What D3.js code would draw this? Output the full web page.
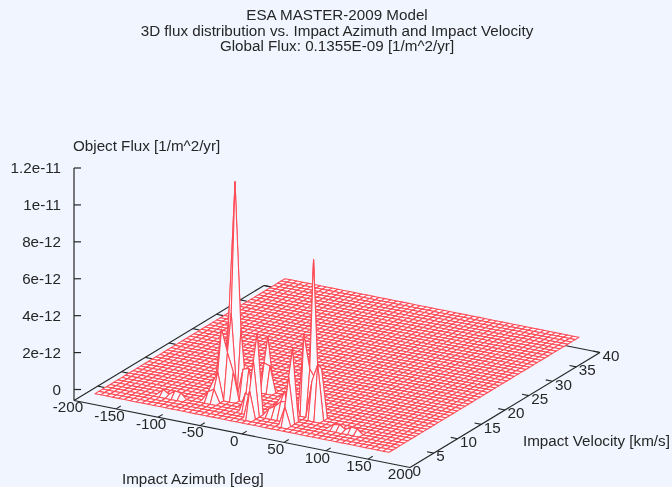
<!DOCTYPE html>
<html>
<head>
<meta charset="utf-8">
<script src="https://cdn.jsdelivr.net/npm/d3@7"></script>
<style>
  html, body { margin: 0; padding: 0; background: #f0f5ff; }
  svg { display: block; filter: blur(0.45px); }
  text { font-family: "Liberation Sans", sans-serif; font-size: 15.2px; fill: #262626; }
</style>
</head>
<body>
<svg class="chart" width="672" height="487"></svg>
<script>
var titleLines = ["ESA MASTER-2009 Model",
                  "3D flux distribution vs. Impact Azimuth and Impact Velocity",
                  "Global Flux: 0.1355E-09 [1/m^2/yr]"];

var azimuthTicks = [-200, -150, -100, -50, 0, 50, 100, 150, 200];
var velocityTicks = [0, 5, 10, 15, 20, 25, 30, 35, 40];
var fluxTicks = [0, 2e-12, 4e-12, 6e-12, 8e-12, 1e-11, 1.2e-11];
var fluxLabels = ["0", "2e-12", "4e-12", "6e-12", "8e-12", "1e-11", "1.2e-11"];

// grid nodes of the surface
var azimuths = [-175, -168, -161, -154, -147, -140, -133, -126, -119, -112, -105, -98, -91,
                -84, -77, -70, -63, -56, -49, -42, -35, -28, -21, -14, -7, 0, 7, 14, 21, 28,
                35, 42, 49, 56, 63, 70, 77, 84, 91, 98, 105, 112, 119, 126, 133, 140, 147,
                154, 161, 168, 175];
var velocities = [0, 0.8, 1.6, 2.4, 3.2, 4, 4.8, 5.6, 6.4, 7.2, 8, 8.8, 9.6, 10.4, 11.2, 12,
                  12.8, 13.6, 14.4, 15.2, 16, 16.8, 17.6, 18.4, 19.2, 20, 20.8, 21.6, 22.4,
                  23.2, 24, 24.8, 25.6, 26.4, 27.2, 28, 28.8, 29.6, 30.4, 31.2, 32, 32.8,
                  33.6, 34.4, 35.2, 36, 36.8, 37.6, 38.4, 39.2, 40];

// every node not listed here is zero flux
var peakAzimuth  = [-49, -49, -49, -49, -56, -42, -56, -56, -42, -35, -63, -63, -56,
                    -28, -28, -28, -21, -63,
                    0, 0, 0, -14, -7, 14, 14,
                    42, 42, 42, 42, 49, 49, 42, 63, 63, 56, 56, 28, 28, 21, 21, 35, 35,
                    -112, -105, -98, -91, 91, 98, 105, 112, 119];
var peakVelocity = [7.2, 6.4, 5.6, 8, 7.2, 7.2, 5.6, 4.8, 5.6, 6.4, 5.6, 4.8, 4,
                    6.4, 10.4, 9.6, 9.6, 4,
                    3.2, 2.4, 1.6, 3.2, 3.2, 4, 3.2,
                    3.2, 2.4, 1.6, 5.6, 6.4, 5.6, 7.2, 4.8, 5.6, 4.8, 5.6, 4, 3.2, 4, 3.2, 4.8, 3.2,
                    3.2, 3.2, 3.2, 3.2, 3.2, 3.2, 3.2, 3.2, 3.2];
var peakFlux     = [1.15e-11, 4.5e-12, 2.5e-12, 2e-12, 4.5e-12, 3.6e-12, 3.7e-12, 1.5e-12, 1.5e-12, 1.6e-12, 1e-12, 8e-13, 7e-13,
                    1.7e-12, 2.8e-12, 1.5e-12, 1.4e-12, 5e-13,
                    4.35e-12, 3e-12, 1.5e-12, 1e-12, 8e-13, 4e-13, 4e-13,
                    3.9e-12, 2.5e-12, 1e-12, 4.3e-12, 8.3e-12, 2.5e-12, 3e-12, 3e-12, 2.65e-12, 2e-12, 2e-12, 1.35e-12, 9e-13, 8e-13, 6e-13, 1.2e-12, 1e-12,
                    3e-13, 1e-13, 3.5e-13, 3e-13, 2.5e-13, 3e-13, 1e-13, 3e-13, 2.5e-13];

var fluxAt = {};
peakAzimuth.forEach(function (a, i) { fluxAt[a + "," + peakVelocity[i]] = peakFlux[i]; });

// the view is an affine projection, so each data axis gets a scale per screen direction
var azX = d3.scaleLinear().domain([-200, 200]).range([0, 336]),
    azY = d3.scaleLinear().domain([-200, 200]).range([0, 67]),
    velX = d3.scaleLinear().domain([0, 40]).range([0, 190]),
    velY = d3.scaleLinear().domain([0, 40]).range([0, -115]),
    zY = d3.scaleLinear().domain([0, 1.2e-11]).range([389.5, 168]),
    azLabelShift = d3.scaleLinear().domain([-200, 200]).range([-6, -9.5]);

var originX = 74, floorY = 400.5, baseLift = floorY - zY(0);

function px(a, v) { return originX + azX(a) + velX(v); }
function py(a, v, z) { return floorY + azY(a) + velY(v) - baseLift - (zY(0) - zY(z || 0)); }
function floorPy(a, v) { return floorY + azY(a) + velY(v); }

var chart = d3.select("svg.chart");
var line = d3.line();

// back and bottom edges go under the surface
var boxEdges = [[[-200, 40], [200, 40]]];
var frontEdges = [[[-200, 0], [200, 0]], [[200, 0], [200, 40]], [[-200, 0], [-200, 40]]];

function edge(sel, edges) {
  sel.selectAll(null).data(edges).enter().append("path")
    .attr("d", function (e) { return line(e.map(function (p) { return [px(p[0], p[1]), floorPy(p[0], p[1])]; })); })
    .attr("fill", "none").attr("stroke", "#262626").attr("stroke-width", 1.2);
}

edge(chart.append("g"), boxEdges.concat(frontEdges));

// z axis
var zAxis = chart.append("g");
zAxis.append("line").attr("x1", originX).attr("x2", originX)
  .attr("y1", zY(1.2e-11)).attr("y2", floorY).attr("stroke", "#262626").attr("stroke-width", 1.2);
zAxis.selectAll("line.tick").data(fluxTicks).enter().append("line").attr("class", "tick")
  .attr("x1", originX).attr("x2", originX + 7)
  .attr("y1", zY).attr("y2", zY).attr("stroke", "#262626").attr("stroke-width", 1.2);
zAxis.selectAll("text").data(fluxTicks).enter().append("text")
  .attr("x", 61).attr("y", zY).attr("dy", "0.35em").attr("text-anchor", "end")
  .text(function (d, i) { return fluxLabels[i]; });

// ticks on the floor
var tickG = chart.append("g").attr("stroke", "#262626").attr("stroke-width", 1.1);
tickG.selectAll("line.az").data(azimuthTicks.slice(1, -1)).enter().append("line").attr("class", "az")
  .attr("x1", function (a) { return px(a, 0); }).attr("y1", function (a) { return floorPy(a, 0); })
  .attr("x2", function (a) { return px(a, 1); }).attr("y2", function (a) { return floorPy(a, 1); });
tickG.selectAll("line.vl").data(velocityTicks.slice(1)).enter().append("line").attr("class", "vl")
  .attr("x1", function (v) { return px(-200, v); }).attr("y1", function (v) { return floorPy(-200, v); })
  .attr("x2", function (v) { return px(-192, v); }).attr("y2", function (v) { return floorPy(-192, v); });
tickG.selectAll("line.vr").data(velocityTicks.slice(1)).enter().append("line").attr("class", "vr")
  .attr("x1", function (v) { return px(200, v); }).attr("y1", function (v) { return floorPy(200, v); })
  .attr("x2", function (v) { return px(192, v); }).attr("y2", function (v) { return floorPy(192, v); });

// surface, painted from the far corner towards the near one
var cells = [];
for (var j = velocities.length - 2; j >= 0; j--) {
  for (var i = 0; i < azimuths.length - 1; i++) {
    cells.push([[azimuths[i], velocities[j]], [azimuths[i + 1], velocities[j]],
                [azimuths[i + 1], velocities[j + 1]], [azimuths[i], velocities[j + 1]]]);
  }
}

chart.append("g").selectAll("path").data(cells).enter().append("path")
  .attr("d", function (c) {
    return line(c.map(function (p) { return [px(p[0], p[1]), py(p[0], p[1], fluxAt[p[0] + "," + p[1]])]; })) + "Z";
  })
  .attr("fill", "#f8faff")
  .attr("stroke", "#ff4a55")
  .attr("stroke-width", 1.05)
  .attr("stroke-linejoin", "round");

// floor labels
chart.append("g").selectAll("text").data(azimuthTicks).enter().append("text")
  .attr("x", function (a) { return px(a, 0) + azLabelShift(a); })
  .attr("y", function (a) { return floorPy(a, 0) + 6.5; })
  .attr("dy", "0.35em").attr("text-anchor", "middle")
  .text(function (d) { return d; });
chart.append("g").selectAll("text").data(velocityTicks).enter().append("text")
  .attr("x", function (v) { return px(200, v) + 2.5; })
  .attr("y", function (v) { return floorPy(200, v) + 3; })
  .attr("dy", "0.35em")
  .text(function (d) { return d; });

chart.append("g").selectAll("text").data(titleLines).enter().append("text")
  .attr("x", 337).attr("y", function (d, i) { return 20 + i * 15.5; })
  .attr("text-anchor", "middle")
  .text(function (d) { return d; });

chart.append("text").attr("x", 73).attr("y", 151).text("Object Flux [1/m^2/yr]");
chart.append("text").attr("x", 122).attr("y", 484).text("Impact Azimuth [deg]");
chart.append("text").attr("x", 523).attr("y", 446).text("Impact Velocity [km/s]");
</script>
</body>
</html>
